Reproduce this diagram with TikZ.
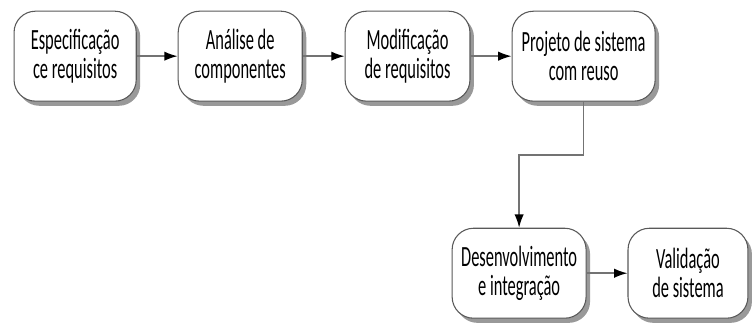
\documentclass[tikz,border=0pt]{standalone}
\usepackage{fontspec}
\setmainfont{Carlito}[FakeStretch=0.56]
\usetikzlibrary{arrows.meta, shadows}

\tikzset{
	etapa/.style={draw=black!65, line width=0.8pt, fill=white, rounded corners=16pt,
		minimum height=2.37cm, align=center, inner sep=0pt,
		font=\fontsize{22}{21.5}\selectfont,
		drop shadow={shadow xshift=3pt, shadow yshift=-3.5pt, fill=black!40, opacity=1}},
	fluxo/.style={draw=black!55, line width=1.1pt, -{Latex[length=10pt, width=7pt, black]}}
}

\begin{document}
\begin{tikzpicture}
		\useasboundingbox (0, 0) rectangle (19.87, -8.62);

		\node[etapa, minimum width=3.22cm] (espec) at (1.98, -1.48) {Especificação\\ce requisitos};
		\node[etapa, minimum width=3.27cm] (analise) at (6.33, -1.48) {Análise de\\componentes};
		\node[etapa, minimum width=3.29cm] (modif) at (10.74, -1.48) {Modificação\\de requisitos};
		\node[etapa, minimum width=3.77cm] (projeto) at (15.38, -1.48) {Projeto de sistema\\com reuso};
		\node[etapa, minimum width=3.53cm] (desenv) at (13.68, -7.20) {Desenvolvimento\\e integração};
		\node[etapa, minimum width=3.16cm] (valid) at (18.13, -7.20) {Validação\\de sistema};

		\coordinate (canto) at (15.38, -4.09);

		\draw[fluxo] (espec) -- (analise);
		\draw[fluxo] (analise) -- (modif);
		\draw[fluxo] (modif) -- (projeto);
		\draw[fluxo] (projeto) -- (canto) -| (desenv);
		\draw[fluxo] (desenv) -- (valid);
	\end{tikzpicture}
\end{document}
